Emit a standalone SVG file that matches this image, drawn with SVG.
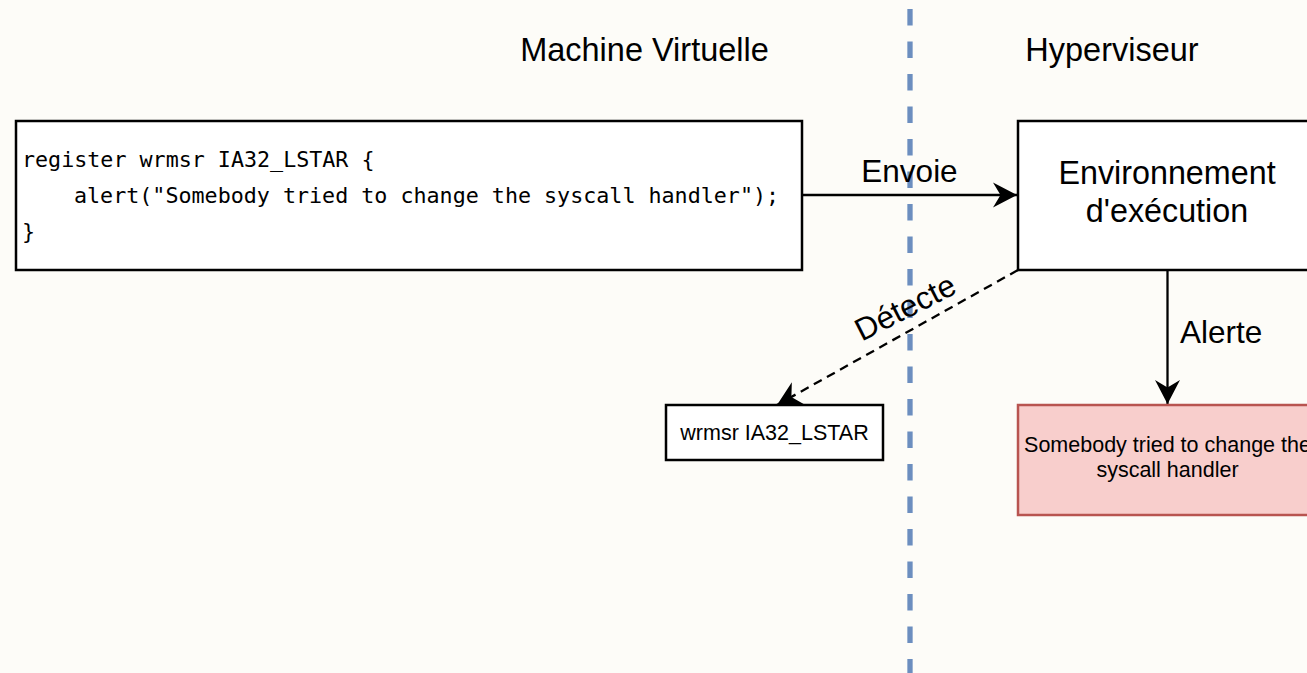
<svg xmlns="http://www.w3.org/2000/svg" width="1307" height="673" viewBox="0 0 1307 673">
  <style>
    .sans { font-family: "Liberation Sans", Arial, sans-serif; fill: #000; }
    .mono { font-family: "DejaVu Sans Mono", "Liberation Mono", monospace; font-size: 21.7px; fill: #000; }
    .box { fill: #ffffff; stroke: #000; stroke-width: 2.5; }
    .alert { fill: #f8cecc; stroke: #b85450; stroke-width: 2.5; }
    .edge { fill: none; stroke: #000; stroke-width: 2.3; }
    .dashed { stroke-dasharray: 9 6; }
    .divider { fill: none; stroke: #6c8ebf; stroke-width: 5.3; stroke-dasharray: 16.5 16; }
  </style>
  <defs>
    <marker id="arrow" viewBox="-26 -14 27 28" refX="0" refY="0" markerWidth="27" markerHeight="28" markerUnits="userSpaceOnUse" orient="auto">
      <path d="M0,0 L-24,-12.5 L-16.5,0 L-24,12.5 Z" fill="#000"/>
    </marker>
  </defs>

  <rect width="1307" height="673" fill="#fdfcf8"/>

  <!-- separation between guest and hypervisor -->
  <line class="divider" x1="910" y1="9" x2="910" y2="673"/>

  <!-- column titles -->
  <g id="titles">
    <text class="sans" x="644.5" y="61" font-size="32.5" text-anchor="middle">Machine Virtuelle</text>
    <text class="sans" x="1112" y="61" font-size="32.5" text-anchor="middle">Hyperviseur</text>
  </g>

  <!-- connectors -->
  <g id="connectors">
    <line class="edge" x1="802" y1="195" x2="1017" y2="195" marker-end="url(#arrow)"/>
    <text class="sans" x="909.5" y="182" font-size="31.5" text-anchor="middle">Envoie</text>

    <line class="edge dashed" x1="1018" y1="270" x2="777" y2="405" marker-end="url(#arrow)"/>
    <text class="sans" x="910" y="317" font-size="31.5" text-anchor="middle" transform="rotate(-27 910 317)">Détecte</text>

    <line class="edge" x1="1167.5" y1="270" x2="1167.5" y2="404" marker-end="url(#arrow)"/>
    <text class="sans" x="1180" y="343" font-size="31.5">Alerte</text>
  </g>

  <!-- guest-side rule -->
  <g id="rule">
    <rect class="box" x="16" y="121" width="786" height="149"/>
    <text class="mono" x="22" y="167">register wrmsr IA32_LSTAR {</text>
    <text class="mono" x="74" y="203">alert("Somebody tried to change the syscall handler");</text>
    <text class="mono" x="22" y="239">}</text>
  </g>

  <!-- execution environment in the hypervisor -->
  <g id="runtime">
    <rect class="box" x="1018" y="121" width="300" height="149"/>
    <text class="sans" x="1167" y="184" font-size="32.3" text-anchor="middle">Environnement</text>
    <text class="sans" x="1167" y="222" font-size="32.3" text-anchor="middle">d'exécution</text>
  </g>

  <!-- intercepted instruction -->
  <g id="instruction">
    <rect class="box" x="666" y="405" width="217" height="55"/>
    <text class="sans" x="774.5" y="440" font-size="21.5" text-anchor="middle">wrmsr IA32_LSTAR</text>
  </g>

  <!-- raised alert -->
  <g id="alert">
    <rect class="alert" x="1018" y="405" width="300" height="110"/>
    <text class="sans" x="1167.5" y="452" font-size="21.5" text-anchor="middle">Somebody tried to change the</text>
    <text class="sans" x="1167.5" y="477" font-size="21.5" text-anchor="middle">syscall handler</text>
  </g>
</svg>
